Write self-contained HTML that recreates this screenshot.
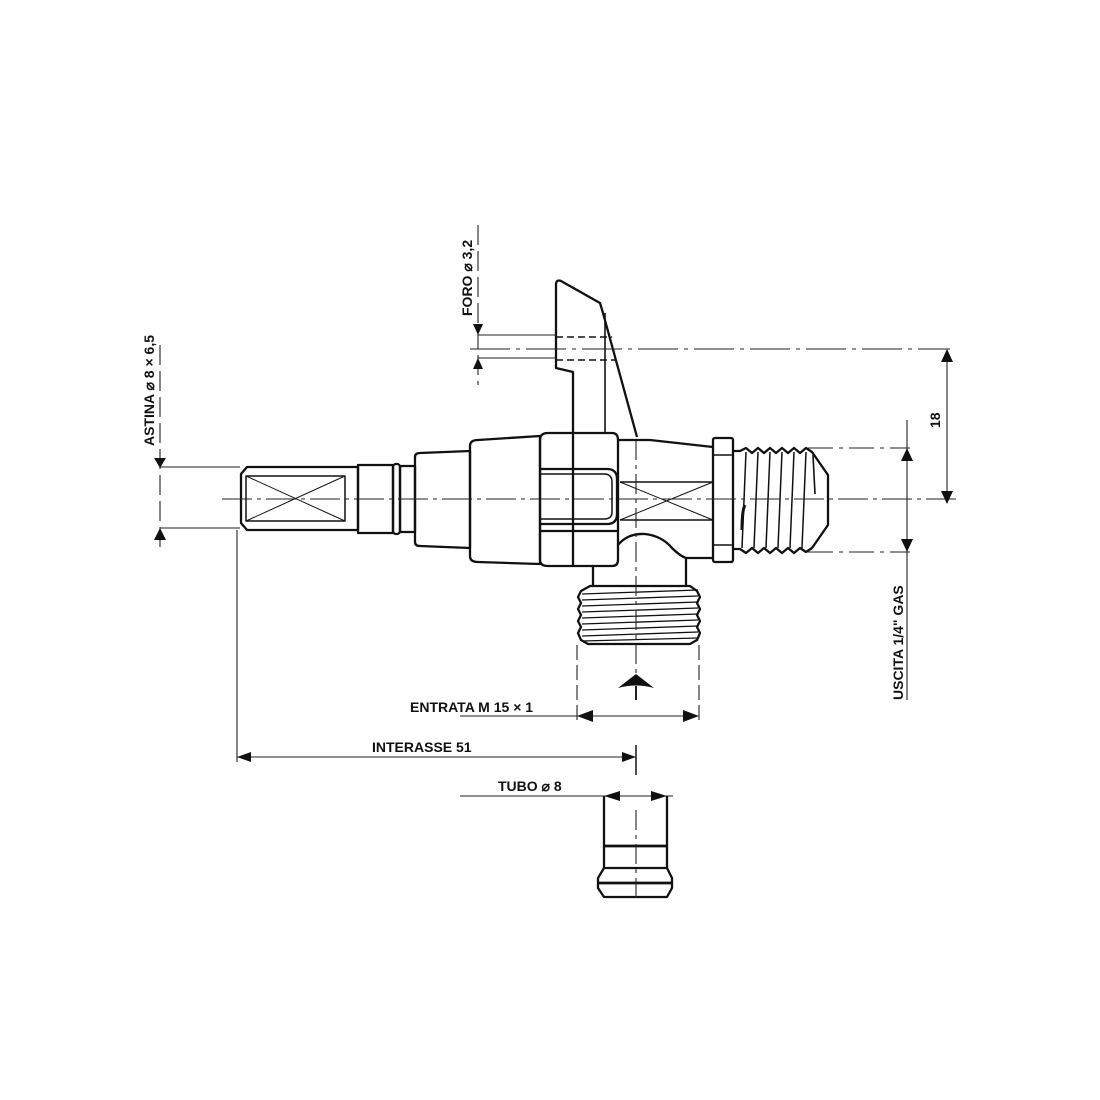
<!DOCTYPE html>
<html><head><meta charset="utf-8"><style>
html,body{margin:0;padding:0;background:#fff}
svg{display:block}
text{font-family:"Liberation Sans",Arial,sans-serif;font-weight:bold;fill:#111}
</style></head><body>
<svg width="1100" height="1100" viewBox="0 0 1100 1100" xmlns="http://www.w3.org/2000/svg">
<g fill="none" stroke="#111" stroke-width="2.3" stroke-linejoin="round">
<!-- Lever -->
<path d="M573,433 L573,372 L556,368 L556,285 Q556,279 561,281 L600,303 L603,313 L637,437"/>
<line x1="605" y1="313" x2="605" y2="433" stroke-width="1.6"/>
<line x1="556" y1="337" x2="612" y2="337" stroke-dasharray="7,4" stroke-width="1.4"/>
<line x1="556" y1="360" x2="615" y2="360" stroke-dasharray="7,4" stroke-width="1.4"/>
<!-- left stem -->
<path d="M247,467 L358,467 L358,530 L247,530 L241,523 L241,474 Z"/>
<rect x="246" y="476" width="99" height="45" stroke-width="1.5"/>
<path d="M246,476 L345,521 M246,521 L345,476" stroke-width="1"/>
<rect x="358" y="465" width="35" height="68"/>
<rect x="393" y="464" width="7" height="70" rx="3"/>
<rect x="400" y="466" width="15" height="66"/>
<!-- sections -->
<path d="M415,457 Q415,453 420,453 L470,451 L470,548 L420,546 Q415,546 415,542 Z"/>
<path d="M470,446 Q470,440 478,440 L540,436 L540,564 L478,562 Q470,562 470,556 Z"/>
<path d="M540,440 Q540,433 548,433 L612,433 Q618,433 618,440 L618,560 Q618,566 612,566 L548,566 Q540,566 540,560 Z"/>
<line x1="573" y1="433" x2="573" y2="566"/>
<path d="M540,469 L607,469 Q617,469 617,479 L617,514 Q617,524 607,524 L540,524"/>
<path d="M540,474 L604,474 Q612,474 612,482 L612,512 Q612,519 604,519 L540,519" stroke-width="1.5"/>
<line x1="540" y1="531" x2="618" y2="531"/>
<!-- right cone -->
<path d="M618,440 L650,440 L713,447"/>
<line x1="620" y1="482" x2="713" y2="482" stroke-width="1.5"/>
<line x1="620" y1="520" x2="713" y2="520" stroke-width="1.5"/>
<path d="M620,482 L713,520 M620,520 L713,482" stroke-width="1"/>
<path d="M618,545 Q628,533 645,534 Q662,536 672,548 Q680,556 686,558 L713,558"/>
<!-- hex -->
<rect x="713" y="438" width="20" height="124" rx="2"/>
<line x1="713" y1="455" x2="733" y2="455" stroke-width="1.4"/>
<line x1="713" y1="545" x2="733" y2="545" stroke-width="1.4"/>
<!-- thread -->
<path d="M733,451 L740,451 L746,448 L752,453 L758,448 L764,453 L770,448 L776,453 L782,448 L788,453 L794,448 L800,453 L806,448 L812,452 L828,475 L828,525 L812,548 L806,552 L800,548 L794,553 L788,548 L782,553 L776,548 L770,553 L764,548 L758,553 L752,548 L746,553 L740,549 L733,549"/>
<path d="M746,452 L742,548 M758,452 L754,548 M770,452 L766,548 M782,452 L778,548 M794,452 L790,548 M806,452 L802,548" stroke-width="1.5"/>
<path d="M742,530 Q742,510 745,505" stroke-width="3"/>
<path d="M813,455 L815,494" stroke-width="1.6"/>
<!-- outlet -->
<path d="M593,566 L593,585 M686,558 L686,585"/>
<path d="M590,586 L690,586 L697,591 L700,597 L697,603 L700,609 L697,615 L700,621 L697,627 L700,633 L697,640 L690,644 L588,644 L581,640 L578,633 L581,627 L578,621 L581,615 L578,609 L581,603 L578,597 L581,591 Z"/>
<path d="M582,594 L698,590 M582,600 L698,596 M582,606 L698,602 M582,612 L698,608 M582,618 L698,614 M582,624 L698,620 M582,630 L698,626 M582,636 L698,632 M582,641 L698,638" stroke-width="1.3"/>
<!-- bottom tube -->
<path d="M604,796 L604,868 M667,796 L667,868"/>
<line x1="604" y1="846" x2="667" y2="846" stroke-width="2.8"/>
<path d="M604,868 L667,868 L672,878 L672,888 L667,897 L604,897 L598,888 L598,878 Z"/>
<line x1="598" y1="883" x2="672" y2="883" stroke-width="2.8"/>
</g>
<!-- center & extension lines -->
<g fill="none" stroke="#222" stroke-width="1.1">
<line x1="222" y1="499" x2="960" y2="499" stroke-dasharray="30,5,4,5"/>
<line x1="470" y1="349" x2="950" y2="349" stroke-dasharray="40,6,4,6"/>
<line x1="636" y1="440" x2="636" y2="680" stroke-dasharray="20,5,4,5"/>
<line x1="636" y1="686" x2="636" y2="700" stroke-width="2"/>
<line x1="636" y1="745" x2="636" y2="775" stroke-width="1.6"/>
<line x1="636" y1="810" x2="636" y2="900" stroke-dasharray="20,5,4,5"/>
<line x1="160" y1="467" x2="240" y2="467"/>
<line x1="160" y1="528" x2="240" y2="528"/>
<line x1="160" y1="345" x2="160" y2="548" stroke-dasharray="20,6"/>
<line x1="237" y1="530" x2="237" y2="762"/>
<line x1="478" y1="335" x2="556" y2="335"/>
<line x1="478" y1="358" x2="556" y2="358"/>
<line x1="478" y1="225" x2="478" y2="385" stroke-dasharray="20,6"/>
<line x1="808" y1="448" x2="910" y2="448" stroke-dasharray="25,6,4,6"/>
<line x1="808" y1="552" x2="910" y2="552" stroke-dasharray="25,6,4,6"/>
<line x1="947" y1="350" x2="947" y2="503"/>
<line x1="907" y1="420" x2="907" y2="700"/>
<line x1="577" y1="645" x2="577" y2="722" stroke-dasharray="15,5"/>
<line x1="699" y1="645" x2="699" y2="722" stroke-dasharray="15,5"/>
<line x1="460" y1="716" x2="697" y2="716"/>
<line x1="237" y1="757" x2="636" y2="757"/>
<line x1="460" y1="796" x2="673" y2="796"/>
</g>
<!-- arrowheads -->
<g fill="#111">
<path d="M154,458 L166,458 L160,468 Z"/>
<path d="M154,540 L166,540 L160,528 Z"/>
<path d="M473,324 L483,324 L478,335 Z"/>
<path d="M473,369 L483,369 L478,358 Z"/>
<path d="M941,362 L953,362 L947,349 Z"/>
<path d="M941,491 L953,491 L947,504 Z"/>
<path d="M901,461 L913,461 L907,448 Z"/>
<path d="M901,539 L913,539 L907,552 Z"/>
<path d="M577,716 L593,710 L593,722 Z"/>
<path d="M699,716 L683,710 L683,722 Z"/>
<path d="M618,688 L636,674 L654,688 Q636,683 618,688 Z"/>
<path d="M237,757 L251,752 L251,762 Z"/>
<path d="M636,757 L622,752 L622,762 Z"/>
<path d="M604,796 L620,791 L620,801 Z"/>
<path d="M667,796 L651,791 L651,801 Z"/>
</g>
<!-- labels -->
<text x="410" y="712" font-size="14">ENTRATA M 15 × 1</text>
<text x="372" y="752" font-size="14">INTERASSE 51</text>
<text x="498" y="791" font-size="14">TUBO ⌀ 8</text>
<text transform="translate(154,446) rotate(-90)" font-size="14">ASTINA ⌀ 8 × 6,5</text>
<text transform="translate(472,316) rotate(-90)" font-size="14">FORO ⌀ 3,2</text>
<text transform="translate(940,428) rotate(-90)" font-size="14">18</text>
<text transform="translate(903,700) rotate(-90)" font-size="14">USCITA 1/4" GAS</text>
</svg>
</body></html>
